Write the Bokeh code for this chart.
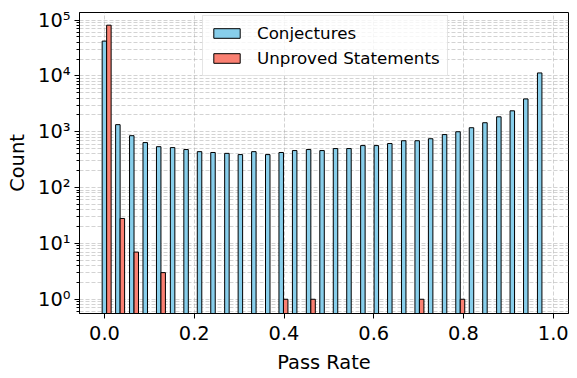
from bokeh.plotting import figure
from bokeh.models import (ColumnDataSource, Legend, LegendItem, FixedTicker,
                          NumeralTickFormatter, CustomJSTickFormatter, Range1d)
from bokeh.transform import dodge
from bokeh.embed import file_html
from bokeh.resources import INLINE

# Pass-rate bins (left edges)
pass_rate = [0.000, 0.030, 0.061, 0.091, 0.121, 0.152, 0.182, 0.212, 0.242,
             0.273, 0.303, 0.333, 0.364, 0.394, 0.424, 0.455, 0.485, 0.515,
             0.545, 0.576, 0.606, 0.636, 0.667, 0.697, 0.727, 0.758, 0.788,
             0.818, 0.848, 0.879, 0.909, 0.939, 0.970]

conjectures = [42000, 1340, 850, 640, 540, 520, 480, 440, 425, 410, 390, 440,
               390, 425, 460, 480, 460, 500, 500, 565, 565, 615, 690, 690,
               750, 890, 1000, 1180, 1450, 1850, 2370, 3870, 11300]

unproved = [81000, 28, 7, 0, 3, 0, 0, 0, 0, 0, 0, 0, 0, 1, 0, 1, 0, 0, 0, 0,
            0, 0, 0, 1, 0, 0, 1, 0, 0, 0, 0, 0, 0]

x_ticks = [0.0, 0.2, 0.4, 0.6, 0.8, 1.0]
y_ticks = [1, 10, 100, 1000, 10000, 100000]

FONT = "DejaVu Sans"

p = figure(width=577, height=376, y_axis_type="log",
           x_range=Range1d(-0.0558, 1.0339), y_range=Range1d(0.556, 1.366e5),
           output_backend="svg", toolbar_location=None,
           min_border_left=79, min_border_right=9, min_border_top=12,
           min_border_bottom=61)

src_c = ColumnDataSource(dict(x=pass_rate, top=conjectures))
src_u = ColumnDataSource(dict(
    x=[x for x, c in zip(pass_rate, unproved) if c > 0],
    top=[c for c in unproved if c > 0]))

r1 = p.vbar(x=dodge('x', -0.0003, range=p.x_range), top='top', bottom=0.01,
            width=0.0100, fill_color="#87CEEB", line_color="black",
            line_width=1, source=src_c)
r2 = p.vbar(x=dodge('x', 0.0097, range=p.x_range), top='top', bottom=0.01,
            width=0.0100, fill_color="#FA8072", line_color="black",
            line_width=1, source=src_u)

# axes
p.xaxis.ticker = FixedTicker(ticks=x_ticks)
p.xaxis.formatter = NumeralTickFormatter(format="0.0")
minor = [m * 10.0 ** k for k in range(-1, 6) for m in range(2, 10)]
p.yaxis.ticker = FixedTicker(ticks=y_ticks, minor_ticks=minor)
p.yaxis.formatter = CustomJSTickFormatter(code="""
const sup = {'0':'\u2070','1':'\u00b9','2':'\u00b2','3':'\u00b3','4':'\u2074',
             '5':'\u2075','6':'\u2076','7':'\u2077','8':'\u2078','9':'\u2079','-':'\u207b'};
const e = Math.round(Math.log10(tick));
return '10' + String(e).split('').map(c => sup[c]).join('');
""")

p.xaxis.axis_label = "Pass Rate"
p.yaxis.axis_label = "Count"
for ax in (p.xaxis, p.yaxis):
    ax.axis_label_text_font = FONT
    ax.axis_label_text_font_size = "19.4px"
    ax.axis_label_text_font_style = "normal"
    ax.axis_label_text_color = "black"
    ax.major_label_text_font = FONT
    ax.major_label_text_font_size = "19.4px"
    ax.major_label_text_color = "black"
    ax.axis_line_color = "black"
    ax.axis_line_width = 1
    ax.major_tick_line_color = "black"
    ax.major_tick_line_width = 1
    ax.major_tick_out = 5
    ax.major_tick_in = 0
    ax.minor_tick_out = 3
    ax.minor_tick_in = 0
    ax.minor_tick_line_color = "black"
p.yaxis.major_label_standoff = 4
p.xaxis.major_label_standoff = 7
p.xaxis.minor_tick_line_color = None
p.xaxis.axis_label_standoff = 8
p.yaxis.axis_label_standoff = 6

p.outline_line_color = "black"
p.outline_line_width = 1
p.outline_line_alpha = 1

# grid
for g in (p.xgrid, p.ygrid):
    g.grid_line_color = "#b0b0b0"
    g.grid_line_dash = "4 2"
    g.grid_line_alpha = 0.7
    g.grid_line_width = 0.8
p.ygrid.minor_grid_line_color = "#b0b0b0"
p.ygrid.minor_grid_line_dash = "4 2"
p.ygrid.minor_grid_line_alpha = 0.7
p.ygrid.minor_grid_line_width = 0.8

legend = Legend(items=[LegendItem(label="Conjectures", renderers=[r1]),
                       LegendItem(label="Unproved Statements", renderers=[r2])],
                location=(123, 237))
legend.label_text_font = FONT
legend.label_text_font_size = "16.7px"
legend.label_text_color = "black"
legend.glyph_width = 33
legend.glyph_height = 12
legend.label_standoff = 14
legend.label_height = 20
legend.padding = 7
legend.spacing = 5
legend.margin = 0
legend.border_line_color = "#cccccc"
legend.border_line_width = 1
legend.background_fill_alpha = 0.8
p.add_layout(legend)

open("out.html", "w").write(file_html(p, INLINE))
